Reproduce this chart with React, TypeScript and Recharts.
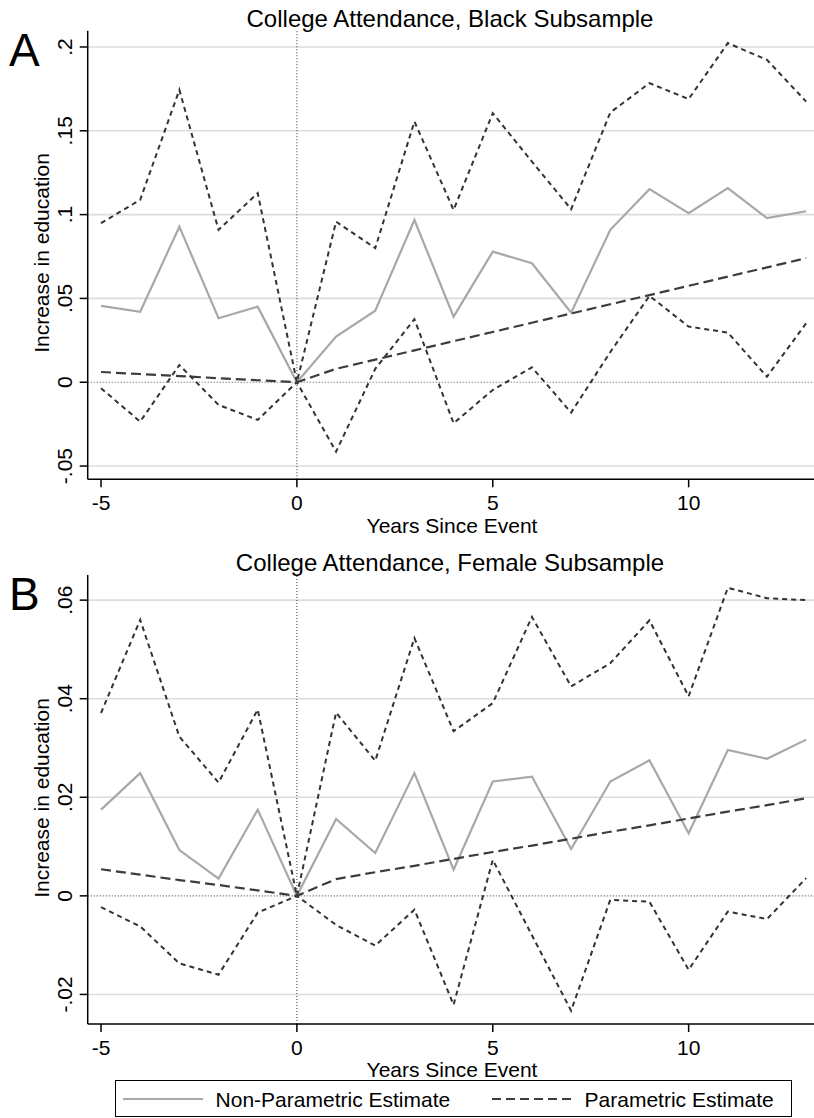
import React from "react";
import { LineChart, Line, XAxis, YAxis, ReferenceLine } from "recharts";

const years = [-5, -4, -3, -2, -1, 0, 1, 2, 3, 4, 5, 6, 7, 8, 9, 10, 11, 12, 13];
const xTicks = [-5, 0, 5, 10];

// Panel A: college attendance, black subsample
const blackNonParam = [0.0455, 0.042, 0.0928, 0.0382, 0.0451, 0, 0.0272, 0.0427, 0.0968, 0.0391, 0.0779, 0.071, 0.0415, 0.0909, 0.1152, 0.1008, 0.1158, 0.0979, 0.102];
const blackUpper = [0.0949, 0.1088, 0.1744, 0.0909, 0.1128, 0, 0.0958, 0.08, 0.1555, 0.1028, 0.1605, 0.1316, 0.1032, 0.1609, 0.1784, 0.1689, 0.2023, 0.1923, 0.1674];
const blackLower = [-0.0036, -0.0235, 0.0103, -0.0135, -0.0225, 0, -0.0414, 0.008, 0.0376, -0.0245, -0.0046, 0.0089, -0.0181, 0.018, 0.0515, 0.0332, 0.0296, 0.0033, 0.0352];
const blackParam = [0.0061, 0.0049, 0.0037, 0.0024, 0.0012, 0, 0.008, 0.0135, 0.019, 0.0245, 0.03, 0.0355, 0.041, 0.0465, 0.052, 0.0575, 0.063, 0.0685, 0.074];
const blackYTicks = [-0.05, 0, 0.05, 0.1, 0.15, 0.2];

// Panel B: college attendance, female subsample
const femaleNonParam = [0.0175, 0.0249, 0.0093, 0.0035, 0.0175, 0, 0.0156, 0.0087, 0.0249, 0.0053, 0.0232, 0.0242, 0.0095, 0.0232, 0.0275, 0.0127, 0.0296, 0.0278, 0.0317];
const femaleUpper = [0.0371, 0.056, 0.0323, 0.023, 0.0378, 0, 0.0372, 0.0274, 0.0523, 0.0334, 0.0391, 0.0566, 0.0425, 0.0472, 0.0559, 0.0405, 0.0625, 0.0604, 0.06];
const femaleLower = [-0.0023, -0.0062, -0.0137, -0.016, -0.0034, 0, -0.0059, -0.0101, -0.0028, -0.0221, 0.0073, -0.008, -0.0233, -0.0008, -0.0012, -0.015, -0.0032, -0.0047, 0.0036];
const femaleParam = [0.0054, 0.0043, 0.0032, 0.0022, 0.0011, 0, 0.0034, 0.0048, 0.0061, 0.0075, 0.0089, 0.0102, 0.0116, 0.013, 0.0143, 0.0157, 0.0171, 0.0184, 0.0198];
const femaleYTicks = [-0.02, 0, 0.02, 0.04, 0.06];

const FONT = "'Liberation Sans', Arial, sans-serif";

const fmt = (v: number) => (v === 0 ? "0" : String(v).replace("0.", "."));

function YTick(props: any) {
  const { x, y, payload } = props;
  return (
    <text x={x} y={y} transform={`rotate(-90 ${x} ${y})`} textAnchor="middle" fontSize={21} fill="#000" fontFamily={FONT}>
      {fmt(payload.value)}
    </text>
  );
}

// div whose text baseline sits at `baseline`
function Txt({ x, baseline, size, center, children }: any) {
  return (
    <div
      style={{
        position: "absolute",
        left: x,
        top: baseline - 0.8465 * size,
        fontSize: size,
        lineHeight: `${size}px`,
        whiteSpace: "nowrap",
        transform: center ? "translateX(-50%)" : undefined,
        color: "#000",
      }}
    >
      {children}
    </div>
  );
}

interface PanelProps {
  top: number;
  plotTop: number;
  plotBottom: number;
  title: string;
  letter: string;
  nonParam: number[];
  upper: number[];
  lower: number[];
  param: number[];
  yDomain: [number, number];
  yTicks: number[];
}

function Panel({ top, plotTop, plotBottom, title, letter, nonParam, upper, lower, param, yDomain, yTicks }: PanelProps) {
  const data = years.map((yr, i) => ({
    year: yr,
    nonParam: nonParam[i],
    upper: upper[i],
    lower: lower[i],
    param: param[i],
  }));
  const H = 540;
  const mt = plotTop - top;
  const mb = H - 60 - (plotBottom - top);
  const plotMid = (plotTop + plotBottom) / 2 - top;

  return (
    <div style={{ position: "absolute", left: 0, top, width: 814, height: H }}>
      <LineChart width={814} height={H} data={data} margin={{ top: mt, right: 0, bottom: mb, left: 27.7 }}>
        {yTicks
          .filter((t) => t !== 0)
          .map((t) => (
            <ReferenceLine key={t} y={t} stroke="#dcdcdc" strokeWidth={1.6} />
          ))}
        <ReferenceLine y={0} stroke="#555" strokeWidth={1.2} strokeDasharray="1 2" />
        <ReferenceLine x={0} stroke="#555" strokeWidth={1.2} strokeDasharray="1 2" />
        <XAxis
          dataKey="year"
          type="number"
          domain={[-5.34, 13.2]}
          ticks={xTicks}
          allowDataOverflow
          height={60}
          tickSize={8}
          tickMargin={8}
          axisLine={{ stroke: "#000", strokeWidth: 1.5 }}
          tickLine={{ stroke: "#000", strokeWidth: 1.5 }}
          tick={{ fill: "#000", fontSize: 21, fontFamily: FONT }}
        />
        <YAxis
          type="number"
          domain={yDomain}
          ticks={yTicks}
          allowDataOverflow
          width={60}
          tickSize={8}
          tickMargin={8}
          axisLine={{ stroke: "#000", strokeWidth: 1.5 }}
          tickLine={{ stroke: "#000", strokeWidth: 1.5 }}
          tick={<YTick />}
        />
        <Line dataKey="nonParam" type="linear" stroke="#a8a8a8" strokeWidth={2.2} dot={false} isAnimationActive={false} />
        <Line dataKey="upper" type="linear" stroke="#333" strokeWidth={2} strokeDasharray="5 4" dot={false} isAnimationActive={false} />
        <Line dataKey="lower" type="linear" stroke="#333" strokeWidth={2} strokeDasharray="5 4" dot={false} isAnimationActive={false} />
        <Line dataKey="param" type="linear" stroke="#3c3c3c" strokeWidth={2.2} strokeDasharray="10 5" dot={false} isAnimationActive={false} />
      </LineChart>
      <Txt x={450} baseline={27.3} size={24} center>
        {title}
      </Txt>
      <Txt x={9} baseline={65.5} size={46}>
        {letter}
      </Txt>
      <Txt x={452} baseline={533} size={21} center>
        Years Since Event
      </Txt>
      <div
        style={{
          position: "absolute",
          left: 40.7,
          top: plotMid - 2,
          fontSize: 21,
          lineHeight: "21px",
          whiteSpace: "nowrap",
          transform: "translate(-50%, -50%) rotate(-90deg)",
        }}
      >
        Increase in education
      </div>
    </div>
  );
}

function Legend() {
  return (
    <div
      style={{
        position: "absolute",
        left: 115,
        top: 1080,
        width: 677,
        height: 37,
        boxSizing: "border-box",
        border: "1.4px solid #000",
        background: "#fff",
      }}
    >
      <svg width={677} height={37} style={{ position: "absolute", left: -1.4, top: -1.4 }}>
        <line x1={8} x2={88} y1={19} y2={19} stroke="#a8a8a8" strokeWidth={2.2} />
        <line x1={377} x2={457} y1={19} y2={19} stroke="#3c3c3c" strokeWidth={2.2} strokeDasharray="9 5" />
      </svg>
      <Txt x={99.6} baseline={25.9} size={21}>
        Non-Parametric Estimate
      </Txt>
      <Txt x={468.6} baseline={25.9} size={21}>
        Parametric Estimate
      </Txt>
    </div>
  );
}

export default function App() {
  return (
    <div style={{ position: "absolute", left: 0, top: 0, width: 814, height: 1118, fontFamily: FONT, background: "#fff" }}>
      <Panel
        top={0}
        plotTop={30.7}
        plotBottom={479.3}
        title="College Attendance, Black Subsample"
        letter="A"
        nonParam={blackNonParam}
        upper={blackUpper}
        lower={blackLower}
        param={blackParam}
        yDomain={[-0.0579, 0.2097]}
        yTicks={blackYTicks}
      />
      <Panel
        top={544}
        plotTop={575}
        plotBottom={1024}
        title="College Attendance, Female Subsample"
        letter="B"
        nonParam={femaleNonParam}
        upper={femaleUpper}
        lower={femaleLower}
        param={femaleParam}
        yDomain={[-0.026, 0.0651]}
        yTicks={femaleYTicks}
      />
      <Legend />
    </div>
  );
}
